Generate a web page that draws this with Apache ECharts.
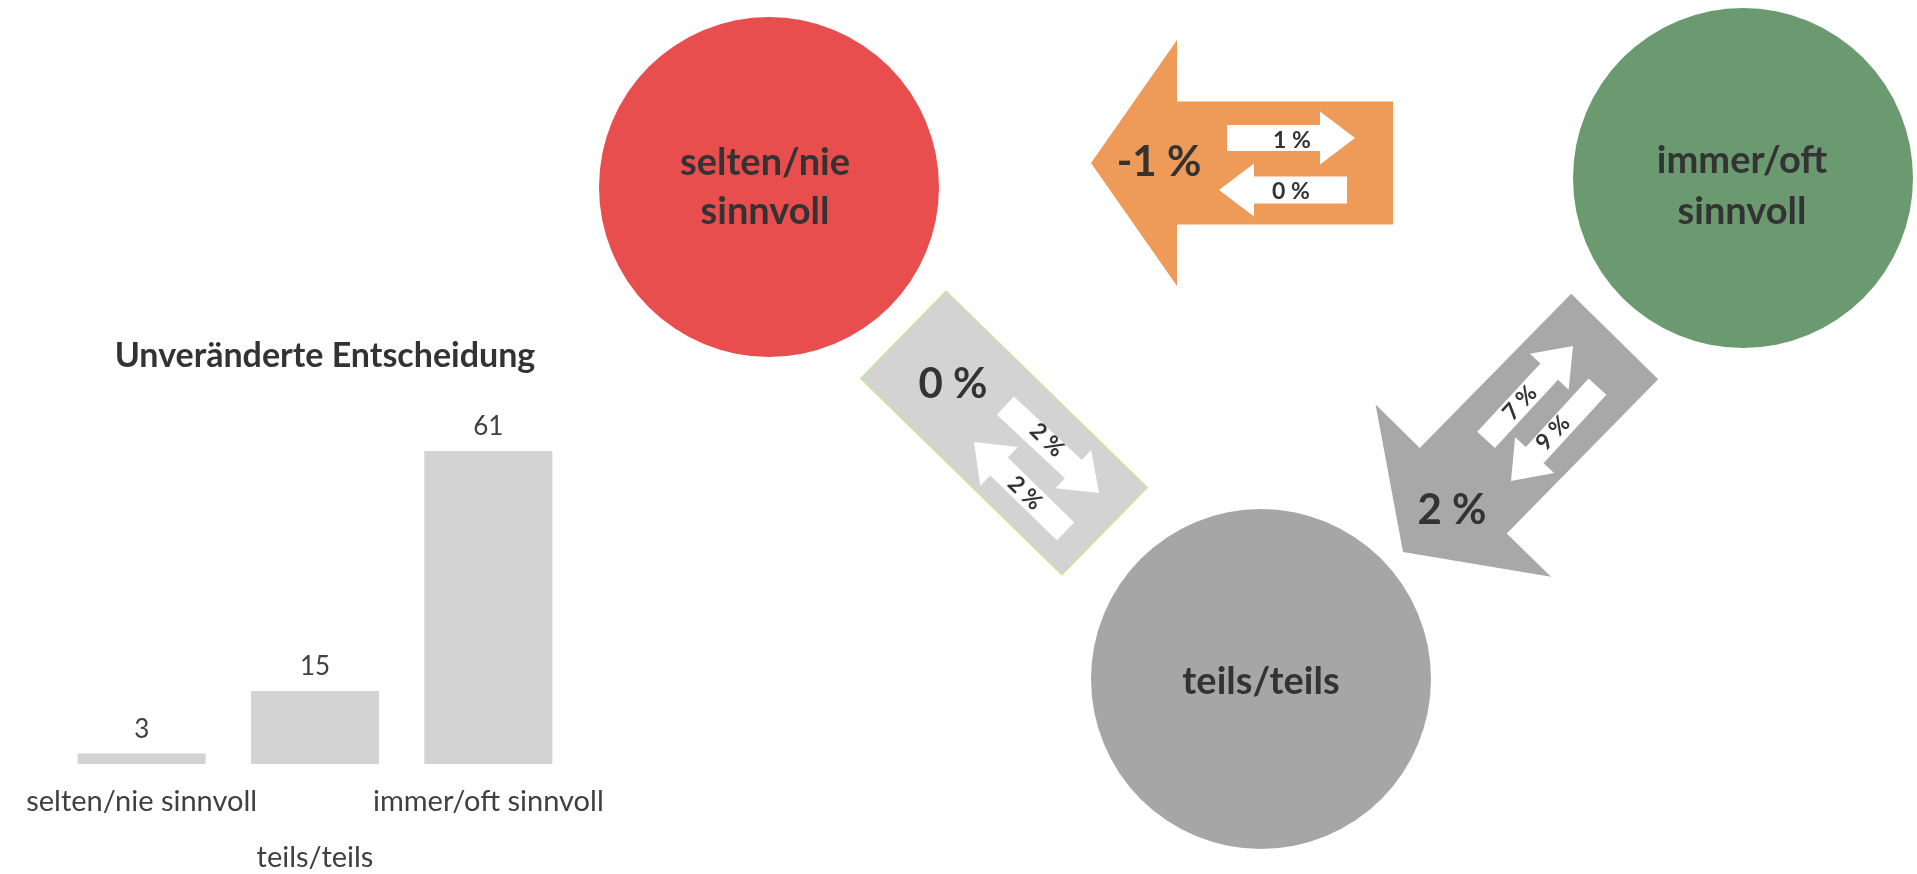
<!DOCTYPE html>
<html>
<head>
<meta charset="utf-8">
<script src="https://cdn.jsdelivr.net/npm/echarts@6/dist/echarts.min.js"></script>
<style>
  html, body { margin: 0; padding: 0; background: #fff; }
  #main { width: 1917px; height: 874px; }
</style>
</head>
<body>
<div id="main"></div>
<script>
// bar chart data
var categories = ['selten/nie sinnvoll', 'teils/teils', 'immer/oft sinnvoll'];
var unchanged = [3, 15, 61];
var chartTitle = 'Unveränderte Entscheidung';

// circle names (same order as categories)
var circleNames = ['selten/nie\nsinnvoll', 'teils/teils', 'immer/oft\nsinnvoll'];
// transitions: orange (immer/selten), box (selten/teils), gray (immer/teils)
var netChange = [-1, 0, 2];
var flowOut = [1, 2, 7];   // 1: selten->immer, 2: selten->teils, 7: teils->immer
var flowBack = [0, 2, 9];  // 0: immer->selten, 2: teils->selten, 9: immer->teils

var FONT = 'Lato, "Open Sans", sans-serif';
var DARK = '#333333';

function pct(v) { return v + ' %'; }

// arrow polygon: tip at (tx,ty), pointing along angle (deg, screen coords)
function arrowPts(tx, ty, ang, len, shaftW, headW, headLen) {
  var a = ang * Math.PI / 180, c = Math.cos(a), s = Math.sin(a);
  var local = [[0, 0], [-headLen, -headW / 2], [-headLen, -shaftW / 2], [-len, -shaftW / 2],
               [-len, shaftW / 2], [-headLen, shaftW / 2], [-headLen, headW / 2]];
  return local.map(function (p) {
    return [tx + p[0] * c - p[1] * s, ty + p[0] * s + p[1] * c];
  });
}
function rectPts(cx, cy, ang, w, h) {
  var a = ang * Math.PI / 180, c = Math.cos(a), s = Math.sin(a);
  return [[-w / 2, -h / 2], [w / 2, -h / 2], [w / 2, h / 2], [-w / 2, h / 2]].map(function (p) {
    return [cx + p[0] * c - p[1] * s, cy + p[0] * s + p[1] * c];
  });
}
function poly(pts, fill, stroke) {
  return { type: 'polygon', shape: { points: pts },
           style: { fill: fill, stroke: stroke || null, lineWidth: stroke ? 1.5 : 0 } };
}
function txt(x, y, text, size, rot, lh) {
  return { type: 'text', x: x, y: y, rotation: (rot || 0) * Math.PI / 180,
           style: { text: text, fill: DARK, font: 'bold ' + size + 'px ' + FONT,
                    align: 'center', verticalAlign: 'middle', lineHeight: lh || size * 1.2 } };
}
function circle(cx, cy, r, fill) {
  return { type: 'circle', shape: { cx: cx, cy: cy, r: r }, style: { fill: fill } };
}

var graphics = [
  // circles
  circle(769, 187, 170, '#E84E4E'),
  circle(1743, 178, 170, '#6B9A70'),
  circle(1261, 679, 170, '#A6A6A6'),
  txt(765, 187, circleNames[0], 38, 0, 49),
  txt(1261, 682, circleNames[1], 38, 0, 49),
  txt(1742, 186, circleNames[2], 38, 0, 51),

  // orange arrow immer -> selten
  poly(arrowPts(1091, 163, 180, 302, 123, 246, 86), '#EE9A58'),
  poly(arrowPts(1355, 138, 0, 128, 26, 53, 35), '#FFFFFF'),
  poly(arrowPts(1219, 190, 180, 128, 27, 53, 35), '#FFFFFF'),
  txt(1159, 162, pct(netChange[0]), 42),
  txt(1292, 141, pct(flowOut[0]), 23),
  txt(1291, 192, pct(flowBack[0]), 23),

  // light grey box selten <-> teils
  poly(rectPts(1004, 433, 44.3, 281, 122), '#D3D3D3', '#C9E59A'),
  poly(arrowPts(1099, 493, 43, 128, 25, 52, 35), '#FFFFFF'),
  poly(arrowPts(974, 442, 224.3, 128, 25, 54, 35), '#FFFFFF'),
  txt(953, 384, pct(netChange[1]), 42),
  txt(1047, 440, pct(flowOut[1]), 23, -44),
  txt(1025, 493, pct(flowBack[1]), 23, -44),

  // grey arrow immer -> teils
  poly(arrowPts(1403, 552, 134.5, 302, 122, 246, 86), '#A8A8A8'),
  poly(arrowPts(1573, 346, -47.2, 128, 24, 53, 35), '#FFFFFF'),
  poly(arrowPts(1511, 481, 132.5, 128, 24, 53, 35), '#FFFFFF'),
  txt(1452, 510, pct(netChange[2]), 42),
  txt(1520, 403, pct(flowOut[2]), 23, 47),
  txt(1553, 433, pct(flowBack[2]), 23, 47),

  // bar chart title
  txt(325, 356, chartTitle, 34)
];

var myChart = echarts.init(document.getElementById('main'));
var option = {
  animation: false,
  backgroundColor: '#ffffff',
  grid: { left: 55, width: 520, top: 404, height: 360, outerBoundsMode: 'none', containLabel: false },
  xAxis: {
    type: 'category',
    data: categories,
    axisLine: { show: false },
    axisTick: { show: false },
    axisLabel: {
      interval: 0,
      margin: 10,
      color: '#404040',
      fontFamily: FONT,
      fontSize: 29,
      lineHeight: 56,
      formatter: function (v, i) { return i % 2 === 1 ? '\n' + v : v; }
    }
  },
  yAxis: { type: 'value', min: 1, max: 70, show: false, splitLine: { show: false } },
  series: [{
    type: 'bar',
    data: unchanged,
    barWidth: 128,
    itemStyle: { color: '#D3D3D3' },
    label: { show: true, position: 'top', distance: 11, color: '#404040',
             fontFamily: FONT, fontSize: 26 }
  }],
  graphic: graphics
};
myChart.setOption(option);
</script>
</body>
</html>
